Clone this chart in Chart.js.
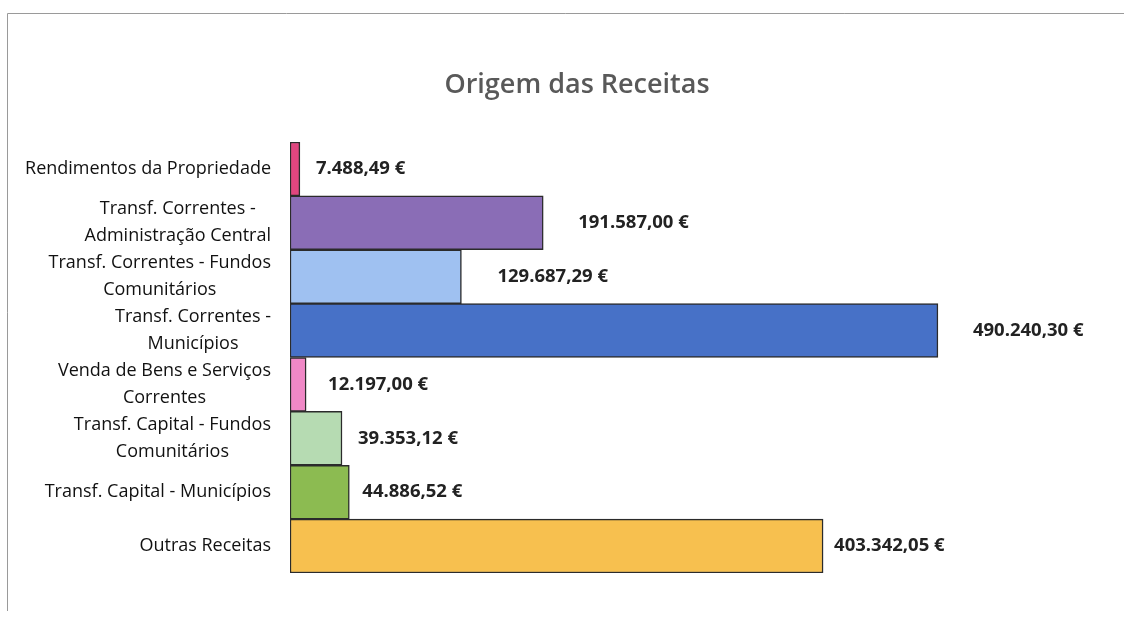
<!DOCTYPE html>
<html>
<head>
<meta charset="utf-8">
<script src="https://cdn.jsdelivr.net/npm/chart.js@4.4.1/dist/chart.umd.min.js"></script>
<style>
  html, body { margin: 0; padding: 0; background: #fff; }
  #wrap { position: relative; width: 1124px; height: 619px; }
</style>
</head>
<body>
<div id="wrap"><canvas id="grafica" width="1124" height="619"></canvas></div>
<script>
// dados do grafico
var categorias = [
    ["Rendimentos da Propriedade"],
    ["Transf. Correntes -", "Administração Central"],
    ["Transf. Correntes - Fundos", "Comunitários"],
    ["Transf. Correntes -", "Municípios"],
    ["Venda de Bens e Serviços", "Correntes"],
    ["Transf. Capital - Fundos", "Comunitários"],
    ["Transf. Capital - Municípios"],
    ["Outras Receitas"]
];
var valores = [7488.49, 191587.00, 129687.29, 490240.30, 12197.00, 39353.12, 44886.52, 403342.05];
var cores = ["#e0467f", "#8a6db6", "#9fc1f1", "#4771c7", "#f088c6", "#b6dbb2", "#8cbb51", "#f7c04f"];

function formataEuro(v) {
    var partes = v.toFixed(2).split(".");
    var inteiro = partes[0].replace(/\B(?=(\d{3})+(?!\d))/g, ".");
    return inteiro + "," + partes[1] + " €";
}

// moldura da folha digitalizada
var moldura = {
    id: "moldura",
    beforeDraw: function (chart) {
        var ctx = chart.ctx;
        ctx.save();
        ctx.strokeStyle = "#9a9a9a";
        ctx.lineWidth = 1;
        ctx.beginPath();
        ctx.moveTo(7.5, 611);
        ctx.lineTo(7.5, 13.5);
        ctx.lineTo(1124, 13.5);
        ctx.stroke();
        ctx.restore();
    }
};

// etiquetas das categorias (linhas centradas, bloco alinhado a direita)
var etiquetasY = {
    id: "etiquetasY",
    afterDraw: function (chart) {
        var ctx = chart.ctx;
        var escala = chart.scales.y;
        var direita = 271;
        var alturaLinha = 27;
        ctx.save();
        ctx.font = "18px 'Open Sans'";
        ctx.fillStyle = "#111";
        ctx.textAlign = "center";
        ctx.textBaseline = "middle";
        chart.data.labels.forEach(function (linhas, i) {
            var largura = 0;
            linhas.forEach(function (l) {
                largura = Math.max(largura, ctx.measureText(l).width);
            });
            var cx = direita - largura / 2;
            var cy = escala.getPixelForTick(i);
            var y0 = cy - (linhas.length - 1) * alturaLinha / 2;
            linhas.forEach(function (l, k) {
                ctx.fillText(l, cx, y0 + k * alturaLinha);
            });
        });
        ctx.restore();
    }
};

// valores a direita das barras
var etiquetasValor = {
    id: "etiquetasValor",
    afterDatasetsDraw: function (chart, args, opts) {
        var ctx = chart.ctx;
        var meta = chart.getDatasetMeta(0);
        ctx.save();
        ctx.font = "bold 18.5px 'Open Sans'";
        ctx.fillStyle = "#222";
        ctx.textAlign = "left";
        ctx.textBaseline = "middle";
        meta.data.forEach(function (barra, i) {
            var desl = opts.deslocamentos[i];
            ctx.fillText(formataEuro(chart.data.datasets[0].data[i]), barra.x + desl, barra.y);
        });
        ctx.restore();
    }
};

var ctx = document.getElementById("grafica");
new Chart(ctx, {
    type: "bar",
    data: {
        labels: categorias,
        datasets: [{
            data: valores,
            backgroundColor: cores,
            borderColor: "#2b2b2b",
            borderWidth: 1.5,
            borderSkipped: false,
            barPercentage: 1,
            categoryPercentage: 1
        }]
    },
    options: {
        indexAxis: "y",
        responsive: false,
        animation: false,
        devicePixelRatio: 1,
        layout: { padding: { left: 71, right: 41, top: 59, bottom: 46 } },
        scales: {
            x: { display: false, min: 0, max: 600000 },
            y: {
                display: true,
                ticks: { display: false },
                grid: { display: false },
                border: { display: false },
                afterFit: function (s) { s.width = 219; }
            }
        },
        plugins: {
            legend: { display: false },
            tooltip: { enabled: false },
            title: {
                display: true,
                text: "Origem das Receitas",
                color: "#595959",
                font: { family: "'Open Sans'", size: 27, weight: "600" },
                padding: { top: 10, bottom: 40.6 }
            },
            etiquetasValor: { deslocamentos: [16, 35, 36, 35, 22, 16, 13, 11] }
        }
    },
    plugins: [moldura, etiquetasY, etiquetasValor]
});
</script>
</body>
</html>
